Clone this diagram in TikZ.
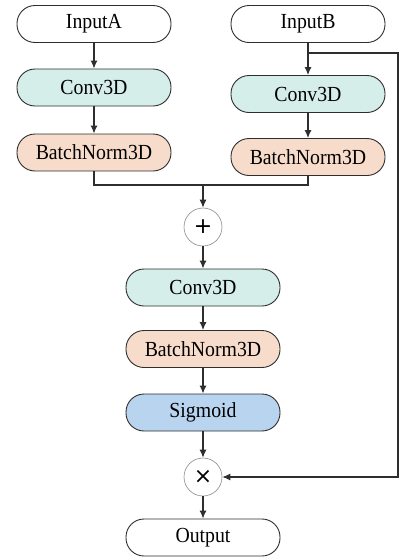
\documentclass[tikz,border=0pt]{standalone}
\usepackage{fontspec}
\setmainfont{Liberation Serif}[FakeStretch=0.92]
\newfontfamily\symfont{DejaVu Sans}
\usetikzlibrary{arrows.meta,calc}
\definecolor{convc}{HTML}{D5EEEA}
\definecolor{bnc}{HTML}{F7DCCB}
\definecolor{sigc}{HTML}{B8D4EF}
\definecolor{linec}{HTML}{2E2E2E}
\begin{document}
\begin{tikzpicture}[x=1pt,y=-1pt,
  blk/.style={draw=linec,line width=0.9pt,rounded corners=18pt,minimum width=154pt,minimum height=37pt,inner sep=0pt,font=\fontsize{21.5}{24}\selectfont},
  conv/.style={blk,fill=convc},
  bn/.style={blk,fill=bnc},
  sig/.style={blk,fill=sigc},
  io/.style={blk,fill=white},
  opc/.style={circle,draw=black!45,line width=0.6pt,fill=white,minimum size=38pt,inner sep=0pt,font=\symfont\fontsize{22}{22}\selectfont},
  arr/.style={draw=linec,line width=1.1pt,-{Latex[length=8pt,width=7pt]}},
  ln/.style={draw=linec,line width=1.1pt}
]
\useasboundingbox (0,0) rectangle (403,560);
\node[io]   (ina)  at (94,24)   {InputA};
\node[conv] (cva)  at (94,87.5) {Conv3D};
\node[bn]   (bna)  at (94,152.5){BatchNorm3D};
\node[io]   (inb)  at (308,24)  {InputB};
\node[conv] (cvb)  at (308,94)  {Conv3D};
\node[bn]   (bnb)  at (308,157) {BatchNorm3D};
\node[opc]  (plus) at (203,227) {+};
\node[conv] (cvm)  at (203,287.5){Conv3D};
\node[bn]   (bnm)  at (203,349) {BatchNorm3D};
\node[sig]  (sg)   at (203,412.5){Sigmoid};
\node[opc]  (mul)  at (203,477) {×};
\node[io]   (out)  at (203,537.5){Output};
\coordinate (mrg) at (203,185);
\coordinate (tap) at (308,53);
\coordinate (rt)  at (398,53);
\coordinate (rb)  at (398,477);
\draw[arr] (ina) -- (cva);
\draw[arr] (cva) -- (bna);
\draw[arr] (inb) -- (cvb);
\draw[arr] (cvb) -- (bnb);
\draw[ln] (bna.south) |- (mrg);
\draw[ln] (bnb.south) |- (mrg);
\draw[arr] (mrg) -- (plus);
\draw[arr] (plus) -- (cvm);
\draw[arr] (cvm) -- (bnm);
\draw[arr] (bnm) -- (sg);
\draw[arr] (sg) -- (mul);
\draw[arr] (mul) -- (out);
\draw[arr] (tap) -- (rt) -- (rb) -- (mul.east);
\end{tikzpicture}
\end{document}
